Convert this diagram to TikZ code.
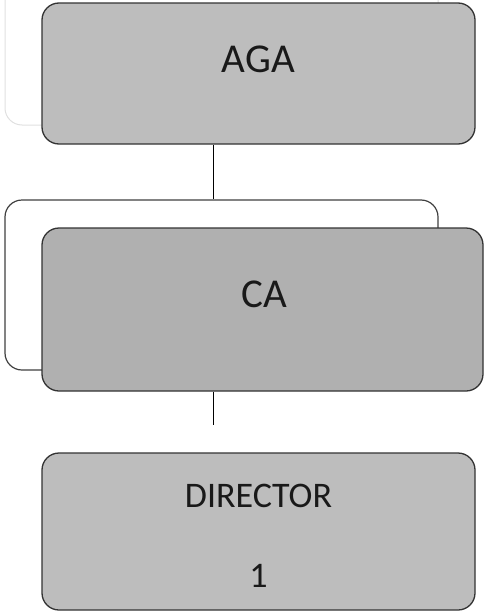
\documentclass[tikz,border=0pt]{standalone}
\usepackage{fontspec}
\setmainfont{Carlito}
\usetikzlibrary{positioning}

\tikzset{
  orgbox/.style={draw=black!80,line width=1.3pt,rounded corners=17pt,fill=black!26},
  backbox/.style={draw=black!75,line width=1.2pt,rounded corners=17pt,fill=white},
  fadebox/.style={draw=black!12,line width=1pt,rounded corners=17pt},
  orglabel/.style={font=\fontsize{41}{48}\selectfont,text=black!90,align=center},
}

\begin{document}
\begin{tikzpicture}[x=1pt,y=-1pt]
\useasboundingbox (0,0) rectangle (484,613);

% faded box behind AGA
\node[fadebox,minimum width=433pt,minimum height=170pt] (agaback) at (221.5,40) {};

\node[orgbox,minimum width=433pt,minimum height=141pt,
  label={[orglabel,yshift=14.5pt]center:AGA}] (aga) at (258.5,73.5) {};

% CA with its back box
\node[backbox,minimum width=433pt,minimum height=170pt] (caback) at (221.5,285) {};
\node[orgbox,fill=black!31,minimum width=441pt,minimum height=163pt,
  label={[orglabel,xshift=1.5pt,yshift=15.5pt]center:CA}] (ca) at (262.5,309.5) {};

\node[orgbox,minimum width=433pt,minimum height=157pt,
  label={[orglabel,font=\fontsize{36}{43}\selectfont,yshift=-4.5pt]center:DIRECTOR\\[37pt]1}] (director) at (258.5,531.5) {};

\coordinate (spine) at (213,0);
\coordinate (dirtop) at (213,425);
\draw[black,line width=1pt] (aga.south -| spine) -- (caback.north -| spine);
\draw[black,line width=1pt] (ca.south -| spine) -- (dirtop);

\end{tikzpicture}
\end{document}
